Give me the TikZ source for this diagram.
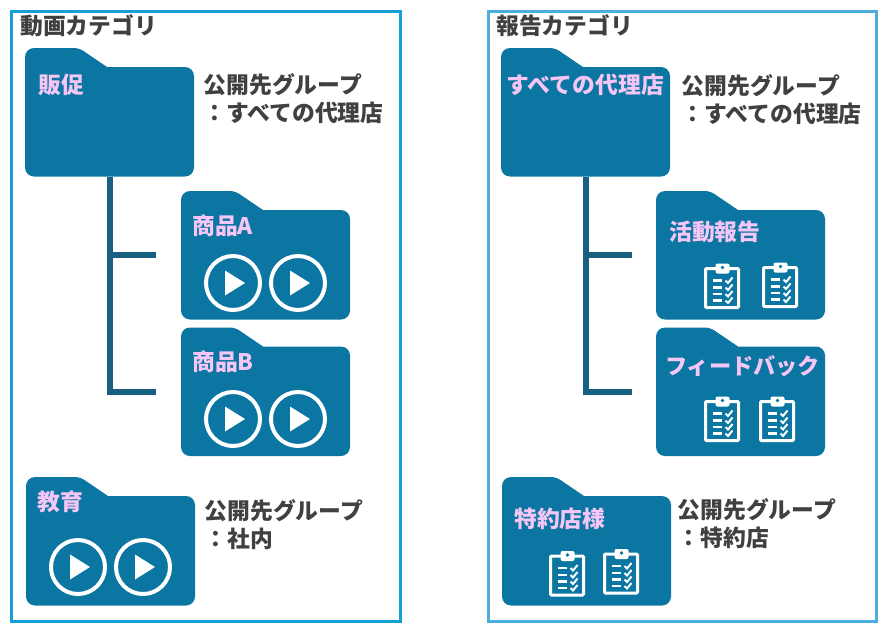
\documentclass[tikz,border=0pt]{standalone}
\usepackage{fontspec}
\usepackage{tikz}
\newfontfamily\cjk{Noto Sans CJK JP}
\definecolor{folderblue}{HTML}{0C76A2}
\definecolor{linkblue}{HTML}{17607F}
\definecolor{frameleft}{HTML}{149FD6}
\definecolor{frameright}{HTML}{4BAEDD}
\definecolor{labelpink}{HTML}{F6C6F7}
\definecolor{textgray}{HTML}{404040}

\begin{document}
\begin{tikzpicture}
[x=1pt,y=-1pt,
catframe/.style={line width=3pt},
folderlink/.style={draw=linkblue,line width=6pt},
cattitle/.style={anchor=west,inner sep=0pt,text=textgray,font=\cjk\bfseries\fontsize{22.8}{28}\selectfont},
grouptext/.style={anchor=west,inner sep=0pt,align=left,text=textgray,font=\cjk\bfseries\fontsize{22.8}{28}\selectfont},
foldername/.style={anchor=west,inner sep=0pt,text=labelpink,font=\cjk\bfseries\fontsize{22.8}{28}\selectfont},
pics/folder/.style={code={
\fill[folderblue,rounded corners=9pt] (0,0) [rounded corners=5pt] -- (54,0) [sharp corners] -- (82,19) [rounded corners=9pt] -- (169,19) -- (169,128.5) -- (0,128.5) -- cycle;
\node[inner sep=0pt,minimum width=169pt,minimum height=128.5pt] (-box) at (84.5,64.25) {};
}},
pics/playicon/.style={code={
\draw[white,line width=4pt] (0,0) circle (27pt);
\fill[white] (-8,-12.5) -- (12,0) -- (-8,12.5) -- cycle;
}},
pics/clipboard/.style={code={
\draw[white,line width=3pt,rounded corners=1pt] (0,0) rectangle (33,39);
\fill[white,rounded corners=2pt] (10,-5) rectangle (24,5);
\fill[folderblue] (17,-1) circle (1.8pt);
\draw[white,line width=2.2pt] (7,12) -- (16,12) (7,19) -- (16,19) (7,25.5) -- (16,25.5) (7,32) -- (16,32);
\draw[white,line width=2pt] (20,12) -- (22.5,14.5) -- (27,9) (20,19) -- (22.5,21.5) -- (27,16) (20,25.5) -- (22.5,28) -- (27,22.5) (20,32) -- (22.5,34.5) -- (27,29);
}}]
\useasboundingbox (0,0) rectangle (885,630);

\draw[frameleft,catframe] (11,11) rectangle (400,621);
\draw[frameright,catframe] (488,11) rectangle (876,621);
\node[cattitle] (videotitle) at (20,26) {動画カテゴリ};
\node[cattitle] (reporttitle) at (496,26) {報告カテゴリ};

\pic (sales) at (25,48) {folder};
\pic (producta) at (181,191) {folder};
\pic (productb) at (181,327.5) {folder};
\pic (training) at (26,477) {folder};
\pic (agents) at (501,48) {folder};
\pic (activity) at (656,191) {folder};
\pic (feedback) at (656,327.5) {folder};
\pic (special) at (502,477) {folder};

\coordinate (salesa) at (156,255);
\coordinate (salesb) at (156,392);
\coordinate (agentsa) at (632,255);
\coordinate (agentsb) at (632,392);
\draw[folderlink] (sales-box.south) |- (salesb);
\draw[folderlink] (sales-box.south |- salesa) -- (salesa);
\draw[folderlink] (agents-box.south) |- (agentsb);
\draw[folderlink] (agents-box.south |- agentsa) -- (agentsa);

\node[foldername] (saleslabel) at (38,85) {販促};
\node[foldername] (productalabel) at (192,226) {商品A};
\node[foldername] (productblabel) at (192,362) {商品B};
\node[foldername] (traininglabel) at (37,502) {教育};
\node[foldername] (agentslabel) at (506.5,85) {すべての代理店};
\node[foldername] (activitylabel) at (669,232) {活動報告};
\node[foldername,font=\cjk\bfseries\fontsize{22.2}{28}\selectfont] (feedbacklabel) at (665,366) {フィードバック};
\node[foldername] (speciallabel) at (514,519) {特約店様};

\node[grouptext] (salesgroup) at (203.5,99) {公開先グループ\\：すべての代理店};
\node[grouptext] (traininggroup) at (204.5,525) {公開先グループ\\：社内};
\node[grouptext] (agentsgroup) at (681.5,100) {公開先グループ\\：すべての代理店};
\node[grouptext] (specialgroup) at (677.5,524) {公開先グループ\\：特約店};

\pic at (233,283) {playicon};
\pic at (298,283) {playicon};
\pic at (233,419) {playicon};
\pic at (298,419) {playicon};
\pic at (78,567) {playicon};
\pic at (143,567) {playicon};

\pic at (705.5,268.5) {clipboard};
\pic at (763.5,267.5) {clipboard};
\pic at (705.5,401.5) {clipboard};
\pic at (760.5,401.5) {clipboard};
\pic at (550.5,556) {clipboard};
\pic at (604.5,554) {clipboard};
\end{tikzpicture}
\end{document}
